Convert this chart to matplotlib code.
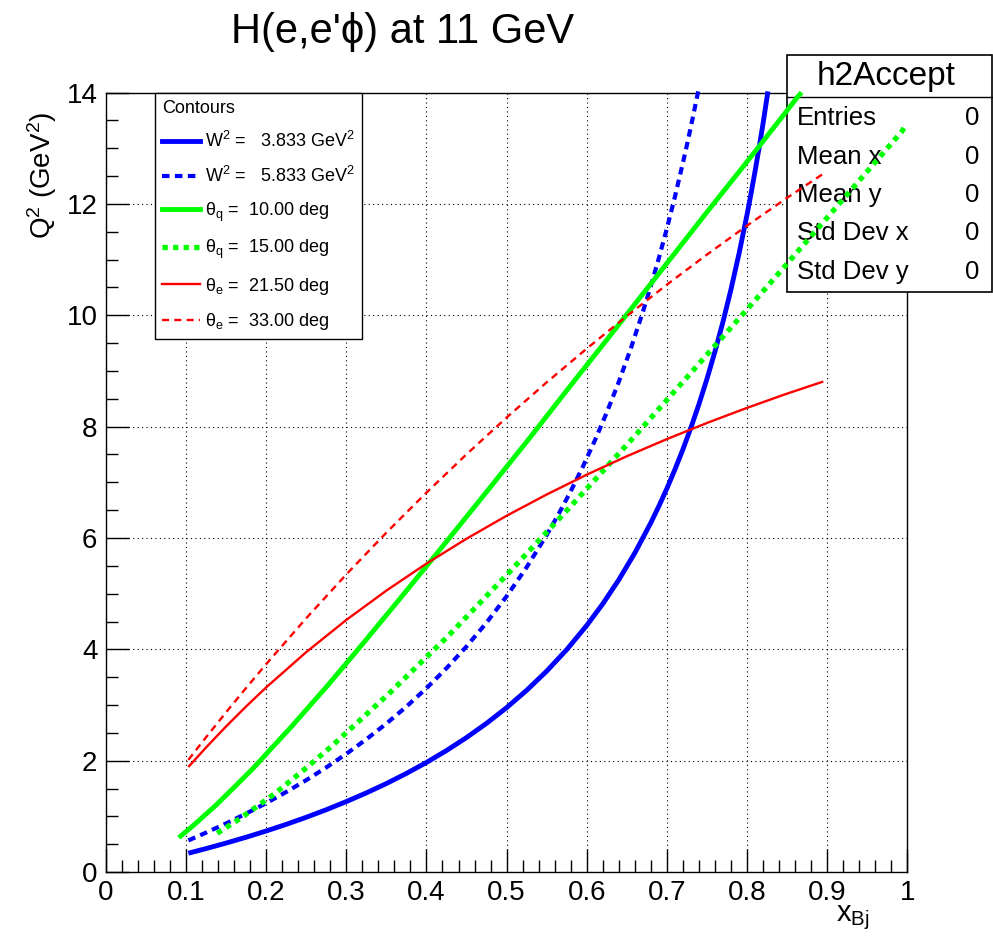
import matplotlib
matplotlib.use("Agg")
import matplotlib.pyplot as plt
from matplotlib.lines import Line2D
from matplotlib.patches import Rectangle
from matplotlib.ticker import MultipleLocator

plt.rcParams['font.family'] = ['Liberation Sans', 'DejaVu Sans']
plt.rcParams['mathtext.fontset'] = 'custom'
plt.rcParams['mathtext.rm'] = 'Liberation Sans'
plt.rcParams['mathtext.it'] = 'Liberation Sans:italic'

# --- curves (x_Bj, Q^2 in GeV^2) ---
w1_x = [0.103, 0.125, 0.15, 0.175, 0.2, 0.225, 0.25, 0.275, 0.3, 0.325, 0.35,
        0.375, 0.4, 0.425, 0.45, 0.475, 0.5, 0.525, 0.55, 0.575, 0.6, 0.62,
        0.64, 0.66, 0.68, 0.69, 0.70, 0.71, 0.72, 0.73, 0.74, 0.75, 0.76,
        0.77, 0.78, 0.79, 0.80, 0.805, 0.81, 0.815, 0.82, 0.826]
w1_q = [0.339, 0.422, 0.521, 0.626, 0.738, 0.857, 0.984, 1.120, 1.266, 1.422,
        1.590, 1.772, 1.969, 2.183, 2.416, 2.672, 2.953, 3.264, 3.609, 3.995,
        4.430, 4.818, 5.250, 5.732, 6.275, 6.573, 6.890, 7.230, 7.593, 7.984,
        8.405, 8.859, 9.351, 9.886, 10.47, 11.11, 11.81, 12.19, 12.59, 13.01,
        13.45, 14.02]

w2_x = [0.103, 0.125, 0.15, 0.175, 0.2, 0.225, 0.25, 0.275, 0.3, 0.325, 0.35,
        0.375, 0.4, 0.425, 0.45, 0.475, 0.5, 0.525, 0.55, 0.565, 0.58, 0.595,
        0.61, 0.625, 0.64, 0.655, 0.67, 0.68, 0.69, 0.70, 0.71, 0.72, 0.725,
        0.732, 0.739]
w2_q = [0.569, 0.708, 0.874, 1.051, 1.238, 1.438, 1.651, 1.879, 2.123, 2.385,
        2.667, 2.972, 3.302, 3.661, 4.052, 4.481, 4.953, 5.474, 6.054, 6.433,
        6.840, 7.277, 7.747, 8.255, 8.805, 9.404, 10.06, 10.53, 11.03, 11.56,
        12.13, 12.74, 13.06, 13.53, 14.02]

tq1_x = [0.091, 0.109, 0.137, 0.160, 0.184, 0.207, 0.231, 0.279, 0.327, 0.376,
         0.426, 0.477, 0.529, 0.581, 0.635, 0.690, 0.746, 0.804, 0.863, 0.868]
tq1_q = [0.618, 0.835, 1.196, 1.521, 1.867, 2.228, 2.603, 3.388, 4.212, 5.069,
         5.953, 6.864, 7.800, 8.759, 9.741, 10.75, 11.78, 12.83, 13.92, 14.00]

tq2_x = [0.139, 0.167, 0.210, 0.245, 0.281, 0.354, 0.429, 0.504, 0.581, 0.660,
         0.740, 0.823, 0.907, 0.993, 0.997]
tq2_q = [0.697, 0.957, 1.400, 1.810, 2.252, 3.215, 4.268, 5.395, 6.585, 7.832,
         9.129, 10.48, 11.87, 13.30, 13.40]

te1_x = [0.103, 0.125, 0.15, 0.175, 0.2, 0.25, 0.3, 0.35, 0.4, 0.45, 0.5, 0.55,
         0.6, 0.65, 0.7, 0.75, 0.8, 0.85, 0.895]
te1_q = [1.888, 2.237, 2.615, 2.974, 3.316, 3.950, 4.528, 5.055, 5.540, 5.987,
         6.399, 6.781, 7.137, 7.468, 7.776, 8.066, 8.337, 8.593, 8.809]

te2_x = [0.103, 0.125, 0.15, 0.175, 0.2, 0.25, 0.3, 0.35, 0.4, 0.45, 0.5, 0.55,
         0.6, 0.65, 0.7, 0.75, 0.8, 0.85, 0.895]
te2_q = [2.016, 2.420, 2.869, 3.306, 3.734, 4.558, 5.345, 6.096, 6.815, 7.503,
         8.163, 8.795, 9.401, 9.985, 10.55, 11.09, 11.61, 12.11, 12.54]

labels = [r"W$^{2}$ =   3.833 GeV$^{2}$",
          r"W$^{2}$ =   5.833 GeV$^{2}$",
          r"θ$_{\mathrm{q}}$ =  10.00 deg",
          r"θ$_{\mathrm{q}}$ =  15.00 deg",
          r"θ$_{\mathrm{e}}$ =  21.50 deg",
          r"θ$_{\mathrm{e}}$ =  33.00 deg"]

stat_names = ["Entries", "Mean x", "Mean y", "Std Dev x", "Std Dev y"]
stat_vals = [0, 0, 0, 0, 0]

BLUE, GREEN, RED = "#0000ff", "#00ff00", "#ff0000"
styles = [
    dict(color=BLUE, lw=3.5, ls="-"),
    dict(color=BLUE, lw=3.0, ls=(0, (1.8, 1.3))),
    dict(color=GREEN, lw=3.5, ls="-"),
    dict(color=GREEN, lw=3.8, ls=(0, (1.0, 1.0))),
    dict(color=RED, lw=1.7, ls="-"),
    dict(color=RED, lw=1.7, ls=(0, (3.0, 2.2))),
]

W, H = 993, 941
fig = plt.figure(figsize=(W / 100, H / 100), dpi=100, facecolor="white")
ax = fig.add_axes([105.8 / W, 1 - 872.1 / H, 801.6 / W, 779.6 / H])
ax.set_xlim(0, 1)
ax.set_ylim(0, 14)
ax.set_axisbelow(True)

curves = [(w1_x, w1_q), (w2_x, w2_q), (tq1_x, tq1_q), (tq2_x, tq2_q),
          (te1_x, te1_q), (te2_x, te2_q)]
for (xs, qs), st in zip(curves, styles):
    ax.plot(xs, qs, solid_capstyle="butt", dash_capstyle="butt",
            solid_joinstyle="round", clip_on=False, zorder=4, **st)

# ROOT-ish axes
ax.xaxis.set_major_locator(MultipleLocator(0.1))
ax.xaxis.set_minor_locator(MultipleLocator(0.02))
ax.yaxis.set_major_locator(MultipleLocator(2))
ax.yaxis.set_minor_locator(MultipleLocator(0.5))
ax.tick_params(which="both", direction="in", top=False, right=False,
               labelsize=20, width=1.0, pad=6)
ax.tick_params(which="major", length=16.5)
ax.tick_params(which="minor", length=8.5)
ax.xaxis.set_major_formatter(plt.FuncFormatter(lambda v, p: f"{v:g}"))
ax.grid(True, which="major", color="black", lw=0.8, ls=(0, (1, 3)))
for s in ax.spines.values():
    s.set_linewidth(1.0)

# legend
handles = [Line2D([], [], **st) for st in styles]
leg = ax.legend(handles, labels, title="Contours", loc="upper left",
                bbox_to_anchor=(155 / W, 1 - 93 / H), bbox_transform=fig.transFigure,
                borderaxespad=0, fontsize=13, title_fontsize=13, fancybox=False,
                framealpha=1, edgecolor="black", handlelength=2.1,
                handletextpad=0.3, labelspacing=0.8, borderpad=0.38,
                alignment="left")
leg.get_frame().set_linewidth(1.0)
leg.set_zorder(6)

# stats box (drawn over the grid, under the curves)
ax.add_patch(Rectangle((787 / W, 1 - 292 / H), 205 / W, 237 / H,
                       transform=fig.transFigure, fill=True, fc="white",
                       ec="black", lw=1.2, zorder=3, clip_on=False))
ax.add_line(Line2D([787 / W, 992 / W], [1 - 97 / H, 1 - 97 / H],
                   transform=fig.transFigure, color="black", lw=1.0,
                   zorder=3.1, clip_on=False))
ax.text(886 / W, 1 - 76 / H, "h2Accept", transform=fig.transFigure,
        ha="center", va="center", fontsize=24, zorder=3.2, clip_on=False)
for i, (nm, v) in enumerate(zip(stat_names, stat_vals)):
    yy = 1 - (118 + i * 38.5) / H
    ax.text(797 / W, yy, nm, transform=fig.transFigure, ha="left",
            va="center", fontsize=18.5, zorder=3.2, clip_on=False)
    ax.text(979 / W, yy, str(v), transform=fig.transFigure, ha="right",
            va="center", fontsize=18.5, zorder=3.2, clip_on=False)

# titles
fig.text(403 / W, 1 - 32 / H, "H(e,e'ϕ) at 11 GeV", ha="center", va="center",
         fontsize=30)
fig.text(42 / W, 1 - 112 / H, r"Q$^{2}$ (GeV$^{2}$)", rotation=90,
         ha="center", va="top", fontsize=20)
fig.text(870 / W, 1 - 903 / H, r"x$_{\mathrm{Bj}}$", ha="right", va="top",
         fontsize=21)

fig.savefig("out.png", dpi=100, facecolor="white")
